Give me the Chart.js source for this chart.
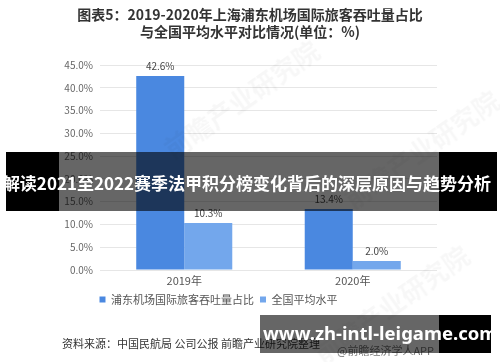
<!DOCTYPE html>
<html>
<head>
<meta charset="utf-8">
<script src="https://cdn.jsdelivr.net/npm/chart.js@4"></script>
<style>
    html, body { margin: 0; padding: 0; background: #fff; }
    #wrap { position: relative; width: 500px; height: 362px; overflow: hidden; font-family: "Noto Sans CJK SC", "Noto Sans", sans-serif; }
    #chart { position: absolute; left: 0; top: 0; }
    .abs { position: absolute; white-space: nowrap; }
    .wm { position: absolute; white-space: nowrap; color: rgba(0, 0, 0, 0.03); font-size: 26px; font-weight: bold; transform: rotate(-35deg); }
    #title { position: absolute; left: 0; width: 500px; top: 6px; text-align: center; color: #333; font-size: 14px; font-weight: bold; line-height: 17px; }
</style>
</head>
<body>
<div id="wrap">
    <canvas id="chart" width="500" height="362"></canvas>
    <div id="title">图表5：2019-2020年上海浦东机场国际旅客吞吐量占比<br>与全国平均水平对比情况(单位：%)</div>
    <div class="wm" style="left:150px; top:80px;">前瞻产业研究院</div>
    <div class="wm" style="left:330px; top:130px;">前瞻产业研究院</div>
    <div class="wm" style="left:300px; top:285px;">前瞻产业研究院</div>
    <div class="abs" style="left:62px; top:335px; font-size:11px; color:#333;">资料来源：中国民航局 公司公报 前瞻产业研究院整理</div>
    <div class="abs" style="left:337px; top:342px; font-size:11px; color:#777;">@前瞻经济学人APP</div>

    <!-- banner overlays -->
    <div class="abs" style="left:6px; top:152px; width:53px; height:59px; background:#000;"></div>
    <div class="abs" style="left:59px; top:152px; width:380px; height:59px; background:rgba(0,0,0,0.6);"></div>
    <div class="abs" style="left:439px; top:152px; width:58px; height:59px; background:#000;"></div>
    <div class="abs" style="left:-13px; width:520px; top:170px; text-align:center; color:#fff; font-weight:bold; font-size:17px; line-height:26px;">解读2021至2022赛季法甲积分榜变化背后的深层原因与趋势分析</div>

    <div class="abs" style="left:260px; top:315px; width:179px; height:38px; background:rgba(0,0,0,0.6);"></div>
    <div class="abs" style="left:439px; top:315px; width:52px; height:38px; background:#000;"></div>
    <div class="abs" style="left:263px; top:321px; color:#fff; font-weight:bold; font-size:18.5px; line-height:24px; font-family:'Noto Sans', sans-serif;">www.zh-intl-leigame.com</div>
</div>

<script>
// data
const years = ['2019年', '2020年'];
const pudongShare = [42.6, 13.4];
const nationalAvg = [10.3, 2.0];
const seriesNames = ['浦东机场国际旅客吞吐量占比', '全国平均水平'];

const fontFamily = '"Noto Sans CJK SC", "Noto Sans", sans-serif';

// draws the value above each bar
const valueLabels = {
    id: 'valueLabels',
    afterDatasetsDraw(chart) {
        const ctx = chart.ctx;
        ctx.save();
        ctx.font = '10px ' + fontFamily;
        ctx.fillStyle = '#444';
        ctx.textAlign = 'center';
        ctx.textBaseline = 'middle';
        chart.data.datasets.forEach((ds, i) => {
            chart.getDatasetMeta(i).data.forEach((bar, j) => {
                ctx.fillText(ds.data[j].toFixed(1) + '%', bar.x, bar.y - 10);
            });
        });
        ctx.restore();
    }
};

new Chart(document.getElementById('chart'), {
    type: 'bar',
    data: {
        labels: years,
        datasets: [{
            label: seriesNames[0],
            data: pudongShare,
            backgroundColor: '#4a88e0'
        }, {
            label: seriesNames[1],
            data: nationalAvg,
            backgroundColor: '#73a7ec'
        }]
    },
    options: {
        responsive: false,
        animation: false,
        layout: {
            padding: { left: 0, right: 63, top: 65, bottom: 47 }
        },
        datasets: {
            bar: {
                categoryPercentage: 0.57,
                barPercentage: 1.0
            }
        },
        plugins: {
            legend: {
                position: 'bottom',
                labels: {
                    boxWidth: 6,
                    boxHeight: 6,
                    padding: 6,
                    color: '#555',
                    font: { family: fontFamily, size: 11 }
                }
            },
            tooltip: { enabled: false }
        },
        scales: {
            x: {
                afterFit: function(scale) {
                    scale.height = 18;
                },
                grid: { display: false, drawTicks: false },
                border: { display: false },
                ticks: {
                    padding: 4,
                    color: '#555',
                    font: { family: fontFamily, size: 11 }
                }
            },
            y: {
                min: 0,
                max: 45,
                afterFit: function(scale) {
                    scale.width = 100;
                },
                grid: { color: '#e6e6e6', drawTicks: false },
                border: { display: false },
                ticks: {
                    stepSize: 5,
                    padding: 7,
                    color: '#666',
                    font: { family: fontFamily, size: 10 },
                    callback: function(value) {
                        return value.toFixed(1) + '%';
                    }
                }
            }
        }
    },
    plugins: [valueLabels]
});
</script>
</body>
</html>
